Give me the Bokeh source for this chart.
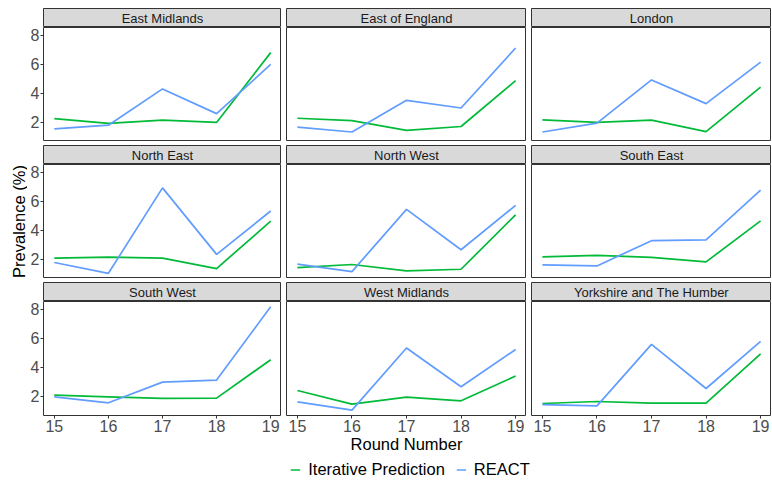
import numpy as np
from bokeh.plotting import figure
from bokeh.layouts import row, column, Spacer
from bokeh.models import Range1d, FixedTicker, Legend, LegendItem
from bokeh.embed import file_html
from bokeh.resources import INLINE
from bokeh.core.properties import value

# ---------------- data ----------------
rounds = [15, 16, 17, 18, 19]
regions = ["East Midlands", "East of England", "London",
           "North East", "North West", "South East",
           "South West", "West Midlands", "Yorkshire and The Humber"]

east_midlands_iter = [2.25, 1.91, 2.14, 1.98, 6.81]
east_midlands_react = [1.54, 1.79, 4.30, 2.59, 5.99]
east_england_iter = [2.27, 2.11, 1.43, 1.70, 4.87]
east_england_react = [1.66, 1.32, 3.51, 2.98, 7.13]
london_iter = [2.16, 1.98, 2.14, 1.34, 4.42]
london_react = [1.32, 1.93, 4.92, 3.28, 6.15]
north_east_iter = [2.07, 2.14, 2.07, 1.35, 4.63]
north_east_react = [1.77, 1.02, 6.93, 2.33, 5.33]
north_west_iter = [1.42, 1.63, 1.19, 1.30, 5.07]
north_west_react = [1.65, 1.14, 5.44, 2.65, 5.72]
south_east_iter = [2.16, 2.26, 2.12, 1.81, 4.65]
south_east_react = [1.60, 1.53, 3.28, 3.33, 6.77]
south_west_iter = [2.07, 1.95, 1.84, 1.86, 4.52]
south_west_react = [1.95, 1.54, 2.97, 3.11, 8.19]
west_midlands_iter = [2.39, 1.45, 1.93, 1.68, 3.39]
west_midlands_react = [1.61, 1.03, 5.33, 2.65, 5.23]
yorkshire_iter = [1.49, 1.63, 1.52, 1.52, 4.93]
yorkshire_react = [1.42, 1.33, 5.58, 2.53, 5.79]

iter_series = [east_midlands_iter, east_england_iter, london_iter,
               north_east_iter, north_west_iter, south_east_iter,
               south_west_iter, west_midlands_iter, yorkshire_iter]
react_series = [east_midlands_react, east_england_react, london_react,
                north_east_react, north_west_react, south_east_react,
                south_west_react, west_midlands_react, yorkshire_react]

y_ticks = [2, 4, 6, 8]
x_ticks = [15, 16, 17, 18, 19]
series_labels = ["Iterative Prediction", "REACT"]
series_colors = ["#00BA38", "#619CFF"]

# ---------------- style / layout ----------------
FONT_NAME = "Liberation Sans"
FONT = value(FONT_NAME)
PW, PH, SH = 240, 114, 19
LEFT, BOTTOM = 14, 42
GAP_X, GAP_Y = 5, 4
TOP = 8
YLAB_W = 27
BORDER = "#333333"

all_vals = [v for s in iter_series + react_series for v in s]
span = max(all_vals) - min(all_vals)
y_lo, y_hi = min(all_vals) - 0.05 * span, max(all_vals) + 0.05 * span
xspan = max(rounds) - min(rounds)
x_lo, x_hi = min(rounds) - 0.05 * xspan, max(rounds) + 0.05 * xspan


def strip_fig(name, col):
    left = LEFT if col == 0 else 0
    s = figure(width=PW + left, height=SH, x_range=Range1d(0, 1), y_range=Range1d(0, 1),
               output_backend="svg", toolbar_location=None, tools="",
               x_axis_location=None, y_axis_location=None,
               min_border_left=left, min_border_right=0, min_border_top=0, min_border_bottom=0)
    s.xgrid.visible = False
    s.ygrid.visible = False
    s.background_fill_color = "#D9D9D9"
    s.border_fill_color = "white"
    s.outline_line_color = BORDER
    s.outline_line_width = 1
    s.text(x=[0.5], y=[0.45], text=[name], text_align="center", text_baseline="middle",
           text_font=FONT, text_font_size="13px", text_color="#1A1A1A")
    return s


def panel_fig(i, rr, col):
    left = LEFT if col == 0 else 0
    bottom = BOTTOM if rr == 2 else 0
    p = figure(width=PW + left, height=PH + bottom,
               x_range=Range1d(x_lo, x_hi), y_range=Range1d(y_lo, y_hi),
               output_backend="svg", toolbar_location=None, tools="",
               x_axis_location="below" if rr == 2 else None,
               y_axis_location="left" if col == 0 else None,
               min_border_left=left, min_border_right=0, min_border_top=0, min_border_bottom=bottom)
    p.xgrid.visible = False
    p.ygrid.visible = False
    p.outline_line_color = BORDER
    p.outline_line_width = 1
    p.background_fill_color = "white"
    p.line(rounds, iter_series[i], line_color=series_colors[0], line_width=1.7)
    p.line(rounds, react_series[i], line_color=series_colors[1], line_width=1.7)
    for ax in list(p.xaxis) + list(p.yaxis):
        ax.axis_line_color = None
        ax.major_tick_line_color = BORDER
        ax.major_tick_out = 3
        ax.major_tick_in = 0
        ax.minor_tick_line_color = None
        ax.major_label_text_font = FONT_NAME
        ax.major_label_text_font_size = "16px"
        ax.major_label_text_color = "#4D4D4D"
        ax.major_label_standoff = 1
    if col == 0:
        p.yaxis.ticker = FixedTicker(ticks=y_ticks)
    if rr == 2:
        p.xaxis.ticker = FixedTicker(ticks=x_ticks)
        if col == 1:
            p.xaxis.axis_label = "Round Number"
            p.xaxis.axis_label_standoff = 0
            p.xaxis.axis_label_text_font = FONT_NAME
            p.xaxis.axis_label_text_font_size = "16.5px"
            p.xaxis.axis_label_text_font_style = "normal"
            p.xaxis.axis_label_text_color = "black"
    return p


grid_rows = []
for rr in range(3):
    cells = []
    for col in range(3):
        i = rr * 3 + col
        cells.append(column(strip_fig(regions[i], col), panel_fig(i, rr, col), spacing=0))
    grid_rows.append(row(*cells, spacing=GAP_X))

# bottom: legend
BH = 24
LEG_SHIFT = 8
bot = figure(width=LEFT + 3 * PW + 2 * GAP_X, height=BH, x_range=Range1d(0, 1), y_range=Range1d(0, 1),
             output_backend="svg", toolbar_location=None, tools="",
             x_axis_location=None, y_axis_location=None,
             min_border_left=LEFT + LEG_SHIFT, min_border_right=0, min_border_top=0, min_border_bottom=0)
bot.xgrid.visible = False
bot.ygrid.visible = False
bot.outline_line_color = None
# legend proxies: the first facet's series, which fall outside this strip's ranges
r1 = bot.line(rounds, iter_series[0], line_color=series_colors[0], line_width=1.7)
r2 = bot.line(rounds, react_series[0], line_color=series_colors[1], line_width=1.7)
leg = Legend(items=[LegendItem(label=series_labels[0], renderers=[r1]),
                    LegendItem(label=series_labels[1], renderers=[r2])],
             orientation="horizontal", location="center",
             glyph_width=10, glyph_height=16, label_standoff=8, spacing=11,
             padding=0, margin=0, border_line_color=None, background_fill_alpha=0,
             label_text_font=FONT_NAME, label_text_font_size="16.5px", label_text_color="black")
bot.add_layout(leg, "center")

# y label
facet_h = TOP + 3 * (SH + PH) + 2 * GAP_Y
ylab = figure(width=YLAB_W, height=facet_h, x_range=Range1d(0, YLAB_W), y_range=Range1d(0, facet_h),
              output_backend="svg", toolbar_location=None, tools="",
              x_axis_location=None, y_axis_location=None,
              min_border_left=0, min_border_right=0, min_border_top=0, min_border_bottom=0)
ylab.xgrid.visible = False
ylab.ygrid.visible = False
ylab.outline_line_color = None
ylab_center = facet_h - (TOP + SH + PH + GAP_Y + SH + PH / 2)
ylab.text(x=[18], y=[ylab_center], text=["Prevalence (%)"], angle=np.pi / 2,
          text_align="center", text_baseline="middle",
          text_font=FONT, text_font_size="16.5px", text_color="black")

facets = column(*grid_rows, spacing=GAP_Y)
layout = row(ylab, column(Spacer(height=TOP), facets, bot, spacing=0), spacing=0)

open("out.html", "w").write(file_html(layout, INLINE))
